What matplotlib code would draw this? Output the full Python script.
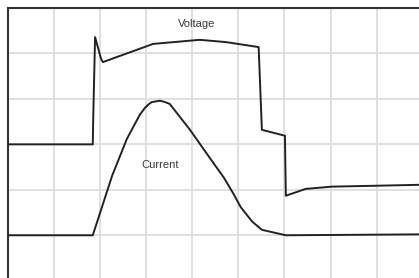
import numpy as np
import matplotlib
matplotlib.use("Agg")
import matplotlib.pyplot as plt

# values in grid divisions (x: time, y: level)
voltage_x = [0, 1.84, 1.85, 1.89, 2.02, 2.06, 3.15, 4.16, 4.73, 5.44, 5.51, 6.01, 6.03, 6.46, 7.03, 8.0, 8.92]
voltage_y = [3.0, 3.0, 3.6, 5.36, 4.88, 4.81, 5.21, 5.30, 5.25, 5.14, 3.32, 3.19, 1.87, 2.02, 2.07, 2.09, 2.11]

current_x = [0, 1.84, 2.26, 2.58, 2.86, 2.97, 3.05, 3.12, 3.30, 3.41, 3.51, 3.95, 4.36, 4.69, 4.90, 5.05, 5.30, 5.51, 6.03, 8.92]
current_y = [1.0, 1.0, 2.31, 3.12, 3.65, 3.80, 3.88, 3.93, 3.96, 3.93, 3.89, 3.32, 2.73, 2.26, 1.90, 1.62, 1.30, 1.12, 1.0, 1.02]

fig = plt.figure(figsize=(4.19, 2.78), dpi=100)
ax = fig.add_axes([8/419, 0, 411/419, 270/278])

ax.plot(voltage_x, voltage_y, color='#222222', lw=1.4, zorder=3)
ax.plot(current_x, current_y, color='#222222', lw=1.4, zorder=3)

ax.text(4.1, 5.65, "Voltage", ha='center', va='center', fontsize=8,
        family='Liberation Sans', color='#3a3a3a')
ax.text(3.3, 2.55, "Current", ha='center', va='center', fontsize=8,
        family='Liberation Sans', color='#3a3a3a')

ax.set_xlim(0, 8.92)
ax.set_ylim(0.06, 6)
ax.set_xticks(np.arange(1, 9))
ax.set_yticks(np.arange(1, 6))
ax.tick_params(length=0, labelbottom=False, labelleft=False)
ax.grid(True, color='#dddddd', lw=1.3)
ax.set_axisbelow(True)

ax.spines['right'].set_visible(False)
ax.spines['bottom'].set_visible(False)
ax.spines['left'].set_color('#333333')
ax.spines['top'].set_color('#333333')
ax.spines['left'].set_linewidth(1.5)
ax.spines['top'].set_linewidth(1.5)

fig.savefig("out.png", dpi=100)
